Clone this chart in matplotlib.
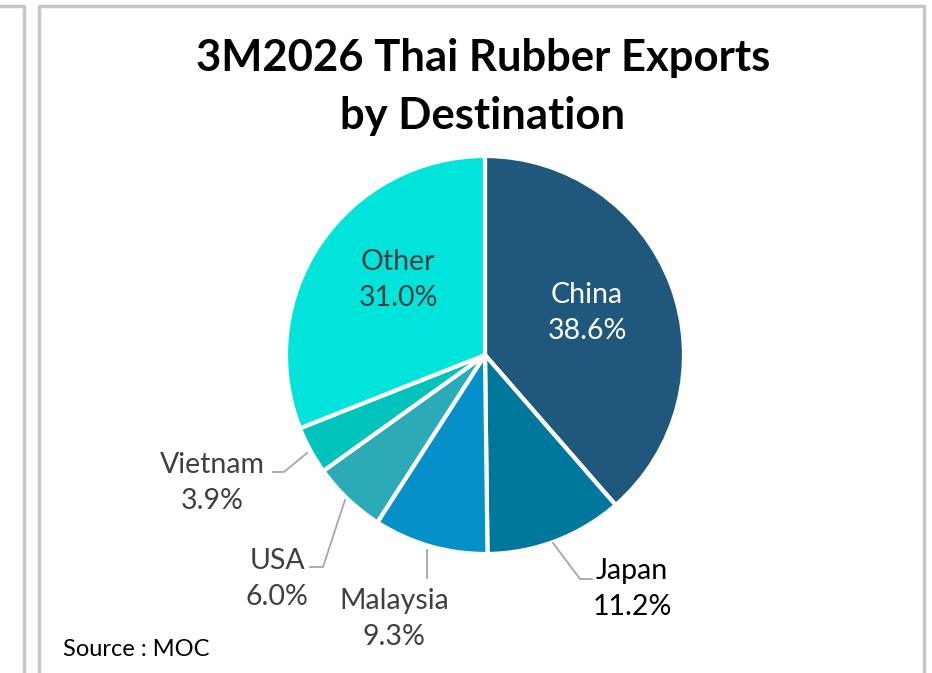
import numpy as np
import matplotlib.pyplot as plt
from matplotlib.lines import Line2D

plt.rcParams['font.family'] = ['Lato', 'DejaVu Sans']

W, H = 932, 673

countries = ['China', 'Japan', 'Malaysia', 'USA', 'Vietnam', 'Other']
shares = [38.6, 11.2, 9.3, 6.0, 3.9, 31.0]
colors = ['#1F587C', '#00789D', '#0590C9', '#2DAAB8', '#00C4BB', '#00E4DB']
text_colors = ['white', 'black', '#404040', '#404040', '#404040', '#404040']

# label centres (image pixels) and leader lines
label_pos = [(587, 313), (632, 589), (394, 619), (277, 579), (212, 483), (398, 280)]
leaders = {
    'Japan': [(553, 543), (580, 579), (592, 579)],
    'Malaysia': [(427, 550), (427, 578)],
    'USA': [(345, 500), (323, 567), (310, 567)],
    'Vietnam': [(307, 453), (284, 472), (273, 472)],
}

fig = plt.figure(figsize=(W / 100, H / 100), dpi=100)
ax = fig.add_axes([0, 0, 1, 1])

cx, cy, r = 485, 355, 199
ax.pie(shares, colors=colors, startangle=90, counterclock=False,
       center=(cx, H - cy), radius=r,
       wedgeprops=dict(edgecolor='white', linewidth=3))

for name, val, (lx, ly), tc in zip(countries, shares, label_pos, text_colors):
    ax.text(lx, H - ly, f'{name}\n{val:.1f}%', ha='center', va='center',
            fontsize=20.5, color=tc, linespacing=1.5)

for name, pts in leaders.items():
    xs = [p[0] for p in pts]
    ys = [H - p[1] for p in pts]
    ax.add_line(Line2D(xs, ys, color='#A6A6A6', lw=1.3))

ax.text(483, H - 87, '3M2026 Thai Rubber Exports\nby Destination', ha='center',
        va='center', fontsize=31.4, fontweight='bold', linespacing=1.53)
ax.text(63, H - 650, 'Source : MOC', ha='left', va='center', fontsize=17)

# panel borders
bc = '#C6C6C6'
ax.add_line(Line2D([0, 23.5, 23.5], [H - 5.5, H - 5.5, 0], color=bc, lw=2.5))
ax.add_line(Line2D([38.5, 38.5, 923.5, 923.5], [0, H - 5.5, H - 5.5, 0], color=bc, lw=2.5))

ax.set_xlim(0, W)
ax.set_ylim(0, H)
ax.set_axis_off()

fig.savefig('out.png', dpi=100)
